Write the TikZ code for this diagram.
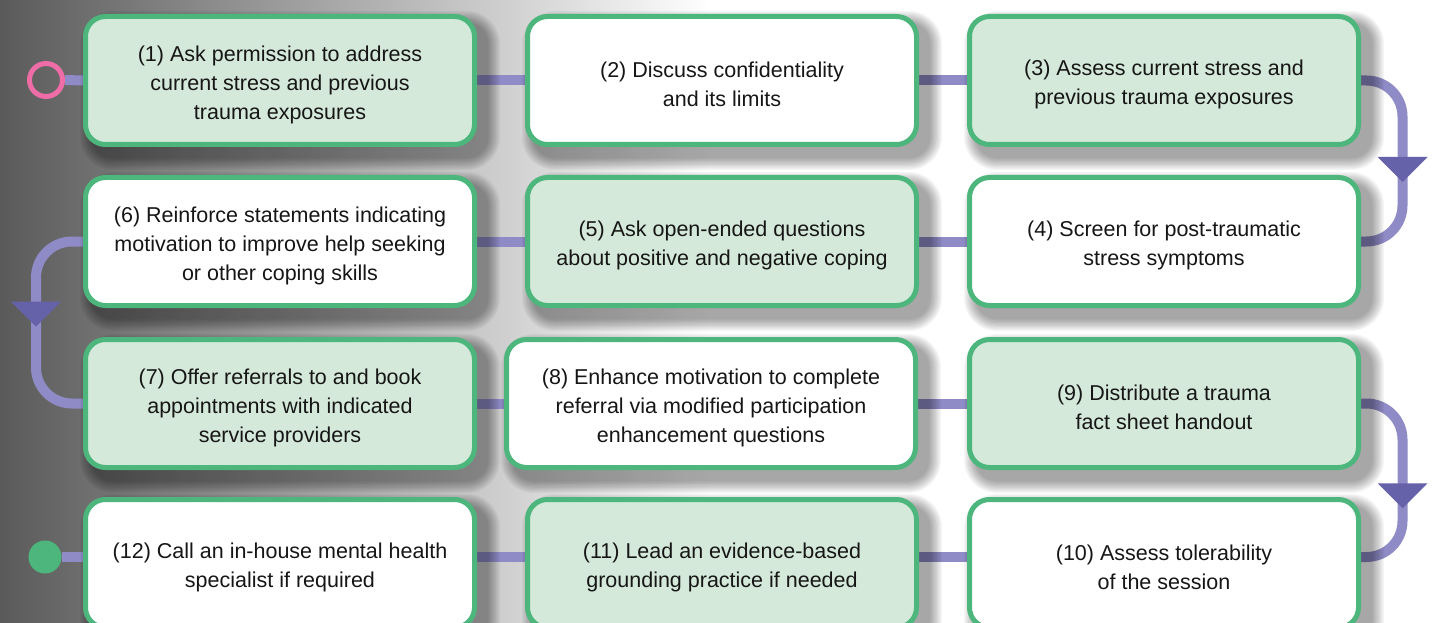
\documentclass[tikz,border=0pt]{standalone}
\usepackage{fontspec}
\setmainfont{Liberation Sans}
\usetikzlibrary{decorations.markings}
\definecolor{bgL}{RGB}{90,90,90}
\definecolor{boxline}{RGB}{77,182,124}
\definecolor{lgreen}{RGB}{213,233,218}
\definecolor{pipecol}{RGB}{143,139,198}
\definecolor{arrowcol}{RGB}{101,98,169}
\definecolor{pinkcol}{RGB}{238,109,166}
\definecolor{txtcol}{RGB}{22,22,22}
\pgfdeclarelayer{bg}
\pgfdeclarelayer{shad}
\pgfsetlayers{bg,shad,main}
\newcommand\mkshadow[1]{%
  \foreach \r in {1,...,10}{%
    \fill[black,opacity=0.038,rounded corners=(20+\r*1.3)*1pt]
      ([xshift=(10-\r*1.3)*1pt,yshift=(-10+\r*1.3)*1pt]#1.north west) rectangle
      ([xshift=(10+\r*1.3)*1pt,yshift=(-10-\r*1.3)*1pt]#1.south east);}}
\tikzset{
  box/.style={draw=boxline, line width=5pt, rounded corners=20pt, fill=white,
    minimum width=389pt, minimum height=128pt, inner sep=0pt},
  gbox/.style={box, fill=lgreen},
  lbl/.style={align=center, text=txtcol, font=\fontsize{21.5}{29}\selectfont, yshift=-4pt},
  pipe/.style={draw=pipecol, line width=10pt},
  midtri/.style={postaction={decorate,decoration={markings,
    mark=at position 0.5 with {\fill[arrowcol,sharp corners] (#1pt,25pt) -- (#1pt,-25pt) -- ({#1pt+25pt},0pt) -- cycle;}}}}
}
\begin{document}
\begin{tikzpicture}[x=1pt,y=-1pt]
\useasboundingbox (0,0) rectangle (1436,623);
% boxes
\node[gbox, label={[lbl]center:{(1) Ask permission to address\\current stress and previous\\trauma exposures}}] (b1) at (280,80.5) {};
\node[box, label={[lbl]center:{(2) Discuss confidentiality\\and its limits}}] (b2) at (722,80.5) {};
\node[gbox, label={[lbl]center:{(3) Assess current stress and\\previous trauma exposures}}] (b3) at (1164,80.5) {};
\node[box, label={[lbl]center:{(4) Screen for post-traumatic\\stress symptoms}}] (b4) at (1164,241.5) {};
\node[gbox, label={[lbl]center:{(5) Ask open-ended questions\\about positive and negative coping}}] (b5) at (722,241.5) {};
\node[box, label={[lbl]center:{(6) Reinforce statements indicating\\motivation to improve help seeking\\or other coping skills}}] (b6) at (280,241.5) {};
\node[gbox, label={[lbl]center:{(7) Offer referrals to and book\\appointments with indicated\\service providers}}] (b7) at (280,403.5) {};
\node[box, minimum width=409pt, label={[lbl]center:{(8) Enhance motivation to complete\\referral via modified participation\\enhancement questions}}] (b8) at (711,403.5) {};
\node[gbox, label={[lbl]center:{(9) Distribute a trauma\\fact sheet handout}}] (b9) at (1164,403.5) {};
\node[box, label={[lbl]center:{(10) Assess tolerability\\of the session}}] (b10) at (1164,563.5) {};
\node[gbox, label={[lbl]center:{(11) Lead an evidence-based\\grounding practice if needed}}] (b11) at (722,563.5) {};
\node[box, label={[lbl]center:{(12) Call an in-house mental health\\specialist if required}}] (b12) at (280,563.5) {};
% start / end
\node[circle, draw=pinkcol, line width=5pt, minimum size=33pt, inner sep=0pt] (start) at (46,80) {};
\node[circle, fill=boxline, minimum size=33pt, inner sep=0pt] (stop) at (45,557) {};
\begin{pgfonlayer}{shad}
\foreach \b in {b1,b2,b3,b4,b5,b6,b7,b8,b9,b10,b11,b12}{\mkshadow{\b}}
\end{pgfonlayer}
\begin{pgfonlayer}{bg}
\shade[left color=bgL, right color=white] (0,0) rectangle (710,623);
\fill[white] (710,0) rectangle (1436,623);
\draw[pipe] (start.east) -- (b1.west);
\draw[pipe] (b1.east) -- (b2.west);
\draw[pipe] (b2.east) -- (b3.west);
\draw[pipe, rounded corners=36pt, midtri=-4] (b3.east) -- ([xshift=41.5pt]b3.east) |- (b4.east);
\draw[pipe] (b4.west) -- (b5.east);
\draw[pipe] (b5.west) -- (b6.east);
\draw[pipe, rounded corners=36pt, midtri=-21] (b6.west) -- ([xshift=-47pt]b6.west) |- (b7.west);
\draw[pipe] (b7.east) -- (b8.west);
\draw[pipe] (b8.east) -- (b9.west);
\draw[pipe, rounded corners=36pt, midtri=3] (b9.east) -- ([xshift=41.5pt]b9.east) |- ([yshift=6.5pt]b10.east);
\draw[pipe] ([yshift=6.5pt]b10.west) -- ([yshift=6.5pt]b11.east);
\draw[pipe] ([yshift=6.5pt]b11.west) -- ([yshift=6.5pt]b12.east);
\draw[pipe] (stop.east) -- ([yshift=6.5pt]b12.west);
\end{pgfonlayer}
\end{tikzpicture}
\end{document}
